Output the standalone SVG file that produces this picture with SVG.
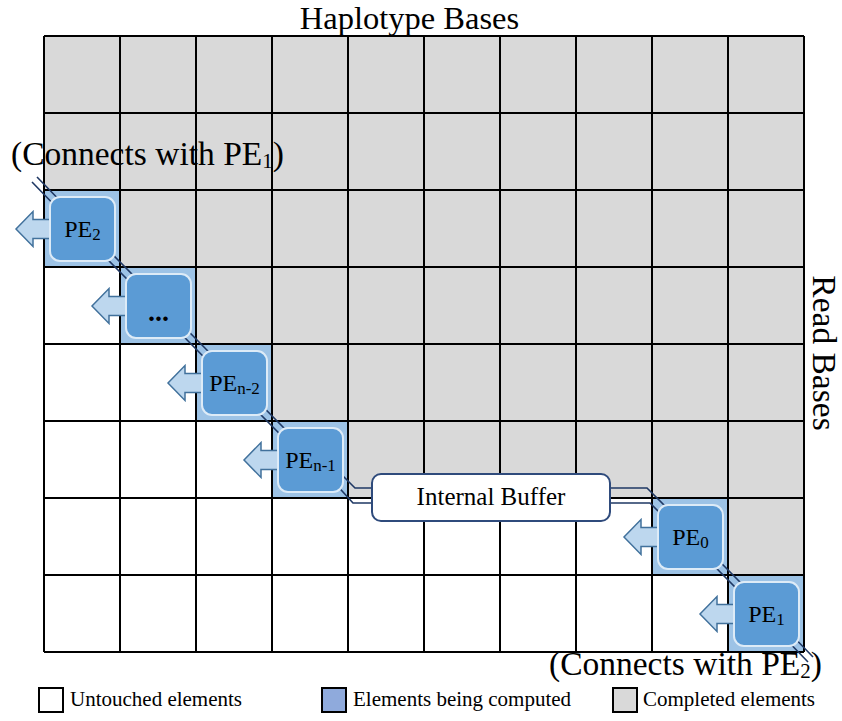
<svg xmlns="http://www.w3.org/2000/svg" width="842" height="721" viewBox="0 0 842 721">
  <style>
    text { font-family: "Liberation Serif", "Times New Roman", serif; fill: #000; }
    .big { font-size: 33.5px; }
    .pe-label { font-size: 24px; text-anchor: middle; }
    .legend { font-size: 21px; }
    .cell-done { fill: #D9D9D9; }
    .cell-active { fill: #9DC3E6; }
    .grid { stroke: #000; stroke-width: 2; fill: none; }
    .pe-box { fill: #5B9BD5; stroke: #DDEBF7; stroke-width: 2; }
    .out-arrow { fill: #BDD7EE; stroke: #41719C; stroke-width: 1.5; stroke-linejoin: miter; }
    .link { stroke: #1F3864; stroke-width: 1.6; fill: none; }
    .buffer { fill: #fff; stroke: #2F4B7C; stroke-width: 2; }
    .key { stroke: #000; stroke-width: 2; }
  </style>

  <rect width="842" height="721" fill="#fff"/>

  <!-- matrix cells: completed region (upper triangle) -->
  <g id="cells">
    <rect x="44" y="36" width="760" height="616" fill="#fff"/>
    <path class="cell-done" d="M44,36 H804 V575 H728 V498 H348 V421 H272 V344 H196 V267 H120 V190 H44 Z"/>
    <rect class="cell-active" x="44" y="190" width="76" height="77"/>
    <rect class="cell-active" x="120" y="267" width="76" height="77"/>
    <rect class="cell-active" x="196" y="344" width="76" height="77"/>
    <rect class="cell-active" x="272" y="421" width="76" height="77"/>
    <rect class="cell-active" x="652" y="498" width="76" height="77"/>
    <rect class="cell-active" x="728" y="575" width="76" height="77"/>
  </g>

  <!-- grid lines: 10 columns x 8 rows -->
  <path class="grid" d="M44,36 V652 M120,36 V652 M196,36 V652 M272,36 V652 M348,36 V652 M424,36 V652 M500,36 V652 M576,36 V652 M652,36 V652 M728,36 V652 M804,36 V652
    M44,36 H804 M44,113 H804 M44,190 H804 M44,267 H804 M44,344 H804 M44,421 H804 M44,498 H804 M44,575 H804 M44,652 H804"/>

  <!-- systolic links between processing elements -->
  <g id="connectors">
    <path class="link" d="M85,226.5 L37,177 M80,231.5 L32,182"/>
    <path class="link" d="M85,226.5 L161,303.5 M80,231.5 L156,308.5"/>
    <path class="link" d="M161,303.5 L237,380.5 M156,308.5 L232,385.5"/>
    <path class="link" d="M237,380.5 L313,457.5 M232,385.5 L308,462.5"/>
    <path class="link" d="M328,461 L355,488 H380 M322,469 L353,503 H380"/>
    <path class="link" d="M600,488 H647 L672,513 M600,503 H650 L668,521"/>
    <path class="link" d="M693,534.5 L769,611.5 M688,539.5 L764,616.5"/>
    <path class="link" d="M769,611.5 L813,657 M764,616.5 L808,662"/>
  </g>

  <g id="buffer">
    <rect class="buffer" x="372" y="474" width="238" height="47" rx="9"/>
    <text x="491" y="505" font-size="25" text-anchor="middle">Internal Buffer</text>
  </g>

  <!-- processing elements: output arrow, box, label -->
  <g id="pe2">
    <path class="out-arrow" d="M58,219.5 H33 V211.5 L16,229 L33,246.5 V238.5 H58 Z"/>
    <rect class="pe-box" x="50" y="197" width="65" height="64" rx="10"/>
    <text class="pe-label" x="82.5" y="237">PE<tspan font-size="17" dy="3">2</tspan></text>
  </g>
  <g id="pe-dots">
    <path class="out-arrow" d="M134,296.5 H109 V288.5 L92,306 L109,323.5 V315.5 H134 Z"/>
    <rect class="pe-box" x="126" y="274" width="65" height="64" rx="10"/>
    <text x="158.5" y="321" font-size="28" font-weight="bold" text-anchor="middle">...</text>
  </g>
  <g id="pe-n-2">
    <path class="out-arrow" d="M210,373.5 H185 V365.5 L168,383 L185,400.5 V392.5 H210 Z"/>
    <rect class="pe-box" x="202" y="351" width="65" height="64" rx="10"/>
    <text class="pe-label" x="234.5" y="391">PE<tspan font-size="17" dy="3">n-2</tspan></text>
  </g>
  <g id="pe-n-1">
    <path class="out-arrow" d="M286,450.5 H261 V442.5 L244,460 L261,477.5 V469.5 H286 Z"/>
    <rect class="pe-box" x="278" y="428" width="65" height="64" rx="10"/>
    <text class="pe-label" x="310.5" y="468">PE<tspan font-size="17" dy="3">n-1</tspan></text>
  </g>
  <g id="pe0">
    <path class="out-arrow" d="M666,527.5 H641 V519.5 L624,537 L641,554.5 V546.5 H666 Z"/>
    <rect class="pe-box" x="658" y="505" width="65" height="64" rx="10"/>
    <text class="pe-label" x="690.5" y="545">PE<tspan font-size="17" dy="3">0</tspan></text>
  </g>
  <g id="pe1">
    <path class="out-arrow" d="M742,604.5 H717 V596.5 L700,614 L717,631.5 V623.5 H742 Z"/>
    <rect class="pe-box" x="734" y="582" width="65" height="64" rx="10"/>
    <text class="pe-label" x="766.5" y="622">PE<tspan font-size="17" dy="3">1</tspan></text>
  </g>

  <!-- axis titles and wrap-around notes -->
  <g id="labels">
    <text x="409.5" y="29" font-size="32.5" text-anchor="middle">Haplotype Bases</text>
    <text class="big" x="813" y="353" text-anchor="middle" transform="rotate(90 813 353)">Read Bases</text>
    <text class="big" x="11" y="165">(Connects with PE<tspan font-size="21" dy="3">1</tspan><tspan dy="-3">)</tspan></text>
    <text class="big" x="549" y="675">(Connects with PE<tspan font-size="21" dy="3">2</tspan><tspan dy="-3">)</tspan></text>
  </g>

  <g id="legend">
    <rect class="key" x="39" y="688" width="24" height="24" fill="#fff"/>
    <text class="legend" x="70" y="706">Untouched elements</text>
    <rect class="key" x="322" y="688" width="24" height="24" fill="#8FAADC"/>
    <text class="legend" x="353" y="706">Elements being computed</text>
    <rect class="key" x="613" y="688" width="24" height="24" fill="#D9D9D9"/>
    <text class="legend" x="643" y="706">Completed elements</text>
  </g>
</svg>
